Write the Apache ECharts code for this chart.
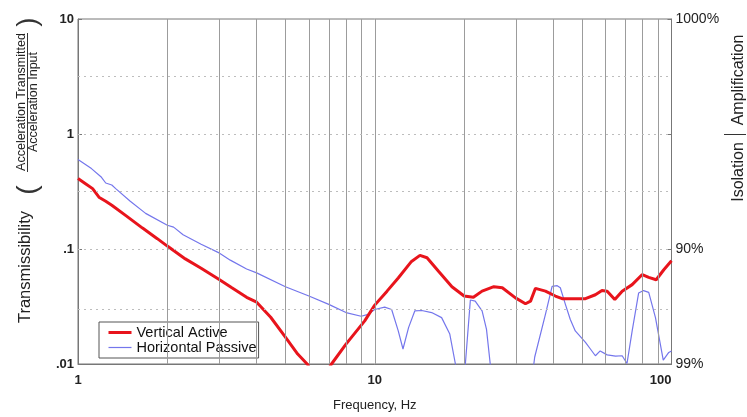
<!DOCTYPE html>
<html><head><meta charset="utf-8">
<script src="https://cdn.jsdelivr.net/npm/echarts@6/dist/echarts.min.js"></script>
<style>html,body{margin:0;padding:0;background:#fff}#c{width:747px;height:417px}</style>
</head><body><div id="c"></div>
<script>
// Vertical Active (red)
const redFreq = [1.0, 1.06, 1.12, 1.18, 1.24, 1.3, 1.45, 1.65, 1.85, 2.0, 2.3, 2.6, 3.0, 3.3, 3.7, 4.0, 4.46, 4.95, 5.5, 5.94, 6.5, 7.13, 8.0, 9.25, 10, 11, 12, 13.3, 14.2, 15, 16.4, 18.2, 20, 21.5, 23, 25.2, 26.9, 29.8, 32.2, 33.5, 34.8, 37.6, 40.6, 42.8, 51.3, 55.4, 58.3, 60.7, 64.4, 68.2, 73.7, 79.7, 83.8, 88.8, 94.2, 100];
const redVal = [0.41, 0.37, 0.335, 0.28, 0.26, 0.24, 0.195, 0.152, 0.123, 0.106, 0.082, 0.068, 0.054, 0.046, 0.038, 0.0345, 0.0255, 0.0177, 0.0122, 0.0099, 0.0065, 0.0099, 0.0149, 0.0237, 0.0325, 0.043, 0.056, 0.078, 0.088, 0.084, 0.064, 0.047, 0.039, 0.038, 0.043, 0.047, 0.046, 0.0376, 0.0334, 0.0352, 0.0455, 0.043, 0.039, 0.037, 0.037, 0.040, 0.0435, 0.043, 0.0363, 0.043, 0.049, 0.060, 0.0567, 0.054, 0.066, 0.079];
// Horizontal Passive (blue)
const blueFreq = [1.0, 1.11, 1.2, 1.24, 1.3, 1.34, 1.5, 1.69, 2.0, 2.1, 2.26, 2.6, 3.0, 3.26, 3.7, 4.0, 5, 6, 7, 8, 9, 9.5, 10, 10.8, 11.4, 12.0, 12.45, 13, 13.65, 14.4, 15.55, 16.8, 17.9, 18.7, 19.4, 20.2, 21, 21.8, 23, 23.8, 24.5, 25.5, 33.5, 34.6, 37.6, 39.6, 41.2, 42.2, 43.9, 45.6, 47.4, 51.3, 53.3, 55.4, 57.5, 60.7, 64.8, 68.2, 70.8, 73.7, 77.5, 80.5, 83.8, 88.3, 93.8, 97.9, 100];
const blueVal = [0.60, 0.50, 0.42, 0.375, 0.36, 0.335, 0.26, 0.204, 0.161, 0.155, 0.133, 0.11, 0.092, 0.080, 0.067, 0.062, 0.047, 0.039, 0.033, 0.028, 0.026, 0.027, 0.0298, 0.0312, 0.0298, 0.0194, 0.0135, 0.0207, 0.029, 0.0292, 0.028, 0.0253, 0.0182, 0.0100, 0.005, 0.0100, 0.036, 0.0352, 0.029, 0.020, 0.0100, 0.006, 0.006, 0.0115, 0.027, 0.0474, 0.048, 0.046, 0.033, 0.0244, 0.0194, 0.0154, 0.0135, 0.0118, 0.013, 0.0120, 0.0117, 0.0118, 0.0101, 0.0194, 0.0415, 0.0435, 0.042, 0.0253, 0.0108, 0.0126, 0.013];

const leftTickLabels = ['.01', '.1', '1', '10'];
const rightTickLabels = ['99%', '90%', '', '1000%'];
const minorFreqGrid = [2, 3, 4, 5, 6, 7, 8, 9, 10, 20, 30, 40, 50, 60, 70, 80, 90];
const halfDecadeGrid = [0.0316, 0.316, 3.16];
const decadeGrid = [0.1, 1];

const zip = (a, b) => a.map((v, i) => [v, b[i]]);
const expIdx = v => Math.round(Math.log10(v)) + 2;

const chart = echarts.init(document.getElementById('c'));
const FONT = '"Liberation Sans", Arial, Helvetica, sans-serif';

const gridLines = minorFreqGrid.map(f => ({xAxis: f, lineStyle: {color: '#9c9c9c', type: 'solid', width: 1}}))
  .concat(halfDecadeGrid.concat(decadeGrid).map(t => ({yAxis: t, lineStyle: {color: '#bdbdbd', type: [2, 4], width: 1}})));

chart.setOption({
  animation: false,
  backgroundColor: '#fff',
  textStyle: {fontFamily: FONT},
  grid: {left: 78, right: 75.5, top: 19, bottom: 50.5, show: true, borderColor: '#777', borderWidth: 1, backgroundColor: 'transparent'},
  legend: {
    orient: 'vertical', left: 99, top: 322,
    padding: [3, 2, 3, 8], itemGap: 0, itemWidth: 23, itemHeight: 10,
    borderColor: '#555', borderWidth: 1, backgroundColor: '#fff',
    itemStyle: {opacity: 0},
    textStyle: {fontSize: 14.5, color: '#111', lineHeight: 13.5, fontFamily: FONT},
    data: [
      {name: 'Vertical Active', lineStyle: {width: 3}},
      {name: 'Horizontal Passive', lineStyle: {width: 1.2}}
    ]
  },
  xAxis: {
    type: 'log', min: 1, max: 100, logBase: 10,
    name: 'Frequency, Hz', nameLocation: 'middle', nameGap: 35,
    nameTextStyle: {fontSize: 13, color: '#222', fontFamily: FONT},
    axisLine: {show: true, lineStyle: {color: '#777'}},
    axisTick: {show: false},
    splitLine: {show: false},
    axisLabel: {fontSize: 13, fontWeight: 'bold', color: '#222', margin: 10, alignMaxLabel: 'right',
      formatter: v => String(Math.round(v))}
  },
  yAxis: [{
    type: 'log', min: 0.01, max: 10, logBase: 10, position: 'left',
    axisLine: {show: true, lineStyle: {color: '#777'}},
    axisTick: {show: true, inside: true, length: 4, lineStyle: {color: '#777'}},
    splitLine: {show: false},
    axisLabel: {fontSize: 13, fontWeight: 'bold', color: '#222', margin: 4,
      formatter: v => leftTickLabels[expIdx(v)]}
  }, {
    type: 'log', min: 0.01, max: 10, logBase: 10, position: 'right',
    axisLine: {show: true, lineStyle: {color: '#777'}},
    axisTick: {show: true, inside: true, length: 4, lineStyle: {color: '#777'}},
    splitLine: {show: false},
    axisLabel: {fontSize: 14, color: '#222', margin: 4,
      formatter: v => rightTickLabels[expIdx(v)]}
  }],
  series: [{
    name: 'grid', type: 'line', data: [], z: 1, silent: true,
    markLine: {silent: true, symbol: 'none', animation: false, label: {show: false}, data: gridLines}
  }, {
    name: 'Vertical Active', type: 'line', data: zip(redFreq, redVal), symbol: 'none', z: 4,
    lineStyle: {color: '#e8141c', width: 3}, itemStyle: {color: '#e8141c'}, clip: true
  }, {
    name: 'Horizontal Passive', type: 'line', data: zip(blueFreq, blueVal), symbol: 'none', z: 3,
    lineStyle: {color: '#7476ec', width: 1.2}, itemStyle: {color: '#7476ec'}, clip: true
  }],
  graphic: [
    {type: 'text', x: 25, y: 267, rotation: Math.PI / 2,
      style: {text: 'Transmissibility', font: '16.5px ' + FONT, fill: '#222', align: 'center', verticalAlign: 'middle', textAlign: 'center', textVerticalAlign: 'middle'}},
    {type: 'text', x: 21.5, y: 102, rotation: Math.PI / 2,
      style: {text: 'Acceleration Transmitted', font: '12.5px ' + FONT, fill: '#222', align: 'center', verticalAlign: 'middle', textAlign: 'center', textVerticalAlign: 'middle'}},
    {type: 'text', x: 33.5, y: 102, rotation: Math.PI / 2,
      style: {text: 'Acceleration Input', font: '12.5px ' + FONT, fill: '#222', align: 'center', verticalAlign: 'middle', textAlign: 'center', textVerticalAlign: 'middle'}},
    {type: 'line', shape: {x1: 27.5, y1: 33, x2: 27.5, y2: 172}, style: {stroke: '#333', lineWidth: 1}},
    {type: 'text', x: 28, y: 190, rotation: Math.PI / 2,
      style: {text: '(', font: '28px ' + FONT, fill: '#333', align: 'center', verticalAlign: 'middle', textAlign: 'center', textVerticalAlign: 'middle'}},
    {type: 'text', x: 28, y: 22, rotation: Math.PI / 2,
      style: {text: ')', font: '28px ' + FONT, fill: '#333', align: 'center', verticalAlign: 'middle', textAlign: 'center', textVerticalAlign: 'middle'}},
    {type: 'text', x: 739, y: 80, rotation: Math.PI / 2,
      style: {text: 'Amplification', font: '16px ' + FONT, fill: '#222', align: 'center', verticalAlign: 'middle', textAlign: 'center', textVerticalAlign: 'middle'}},
    {type: 'text', x: 739, y: 172, rotation: Math.PI / 2,
      style: {text: 'Isolation', font: '16px ' + FONT, fill: '#222', align: 'center', verticalAlign: 'middle', textAlign: 'center', textVerticalAlign: 'middle'}},
    {type: 'line', shape: {x1: 724, y1: 134.5, x2: 746, y2: 134.5}, style: {stroke: '#333', lineWidth: 1}}
  ]
});
</script></body></html>
